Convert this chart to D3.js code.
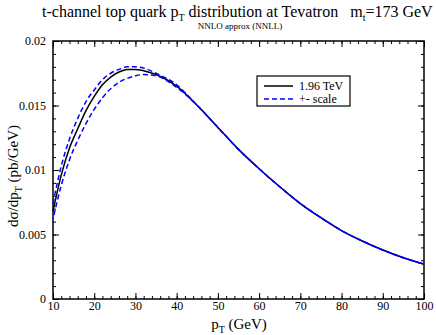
<!DOCTYPE html>
<html>
<head>
<meta charset="utf-8">
<script src="https://cdn.jsdelivr.net/npm/d3@7"></script>
<style>
  body { margin: 0; background: #fff; }
  text, .tick text { font-family: "Liberation Serif", "DejaVu Serif", serif !important; }
</style>
</head>
<body>
<svg id="chart" width="436" height="335"></svg>
<script>
// pT values (GeV)
var ptVals = [10, 12, 14, 16, 18, 20, 22, 24, 26, 28, 30, 32, 35, 40, 45, 50, 55, 60, 65, 70, 75, 80, 85, 90, 95, 100];

// central curve, 1.96 TeV
var central = [0.0068, 0.0096, 0.0117, 0.0132, 0.0146, 0.0157, 0.0166, 0.0172, 0.0176, 0.0178, 0.0178, 0.0177, 0.0174, 0.0165, 0.0150,
  0.0133, 0.0116, 0.0101, 0.0087, 0.0074, 0.0063, 0.0053, 0.0045, 0.0038, 0.0032, 0.0027];

// scale variation, up and down
var scaleUp = [0.0074, 0.0103, 0.0124, 0.0140, 0.0153, 0.0162, 0.0170, 0.0175, 0.0178, 0.0180, 0.0180, 0.0179, 0.0175, 0.0166, 0.0150,
  0.0133, 0.0116, 0.0101, 0.0087, 0.0074, 0.0063, 0.0053, 0.0045, 0.0038, 0.0032, 0.0027];
var scaleDown = [0.0062, 0.0088, 0.0108, 0.0123, 0.0136, 0.0147, 0.0156, 0.0163, 0.0168, 0.0171, 0.0173, 0.0174, 0.0173, 0.0164, 0.0150,
  0.0133, 0.0116, 0.0101, 0.0087, 0.0074, 0.0063, 0.0053, 0.0045, 0.0038, 0.0032, 0.0027];

var xTickVals = [10, 20, 30, 40, 50, 60, 70, 80, 90, 100];
var yTickVals = [0, 0.005, 0.01, 0.015, 0.02];
var yTickLabels = ["0", "0.005", "0.01", "0.015", "0.02"];

var serif = "Liberation Serif, DejaVu Serif, serif";

var svg = d3.select("#chart"),
    pLeft = 53, pRight = 424, pTop = 41, pBottom = 299;

var x = d3.scaleLinear().domain([10, 100]).range([pLeft, pRight]);
var y = d3.scaleLinear().domain([0, 0.02]).range([pBottom, pTop]);

// minor ticks
var xMinor = d3.range(10, 100.1, 2), yMinor = d3.range(0, 0.02001, 0.001);

// bottom axis (ticks inward)
svg.append("g").attr("transform", "translate(0," + pBottom + ")")
  .call(d3.axisBottom(x).tickValues(xMinor).tickSize(-3).tickFormat(""));
svg.append("g").attr("transform", "translate(0," + pBottom + ")")
  .call(d3.axisBottom(x).tickValues(xTickVals).tickSize(-6).tickPadding(2).tickFormat(d3.format("d")));
// top axis
svg.append("g").attr("transform", "translate(0," + pTop + ")")
  .call(d3.axisTop(x).tickValues(xMinor).tickSize(-3).tickFormat(""));
svg.append("g").attr("transform", "translate(0," + pTop + ")")
  .call(d3.axisTop(x).tickValues(xTickVals).tickSize(-6).tickFormat(""));
// left axis
svg.append("g").attr("transform", "translate(" + pLeft + ",0)")
  .call(d3.axisLeft(y).tickValues(yMinor).tickSize(-3).tickFormat(""));
svg.append("g").attr("transform", "translate(" + pLeft + ",0)")
  .call(d3.axisLeft(y).tickValues(yTickVals).tickSize(-6).tickPadding(7)
    .tickFormat(function(d, i) { return yTickLabels[i]; }));
// right axis
svg.append("g").attr("transform", "translate(" + pRight + ",0)")
  .call(d3.axisRight(y).tickValues(yMinor).tickSize(-3).tickFormat(""));
svg.append("g").attr("transform", "translate(" + pRight + ",0)")
  .call(d3.axisRight(y).tickValues(yTickVals).tickSize(-6).tickFormat(""));

svg.selectAll(".domain").remove();
svg.selectAll("g").attr("font-family", serif).attr("font-size", 12);
svg.selectAll(".tick line").attr("stroke", "#000").attr("stroke-width", 1);
svg.selectAll(".tick text").attr("fill", "#000");

// frame
svg.append("rect").attr("x", pLeft).attr("y", pTop)
  .attr("width", pRight - pLeft).attr("height", pBottom - pTop)
  .attr("fill", "none").attr("stroke", "#000").attr("stroke-width", 1.5);

// curves
var line = d3.line().curve(d3.curveMonotoneX);
function pts(arr) { return ptVals.map(function(p, i) { return [x(p), y(arr[i])]; }); }

svg.append("path").attr("d", line(pts(central)))
  .attr("fill", "none").attr("stroke", "#000").attr("stroke-width", 1.5);
[scaleUp, scaleDown].forEach(function(s, k) {
  svg.append("path").attr("d", line(pts(s)))
    .attr("fill", "none").attr("stroke", "#0000ff").attr("stroke-width", 1.5)
    .attr("stroke-dasharray", "5,3").attr("stroke-dashoffset", k * 4);
});

// legend
var lg = svg.append("g");
lg.append("rect").attr("x", 257).attr("y", 76).attr("width", 93).attr("height", 30)
  .attr("fill", "#fff").attr("stroke", "#000").attr("stroke-width", 1.2);
lg.append("line").attr("x1", 264).attr("x2", 293).attr("y1", 86).attr("y2", 86)
  .attr("stroke", "#000").attr("stroke-width", 1.5);
lg.append("line").attr("x1", 264).attr("x2", 293).attr("y1", 99).attr("y2", 99)
  .attr("stroke", "#0000ff").attr("stroke-width", 1.5).attr("stroke-dasharray", "5,3");
lg.append("text").attr("x", 299).attr("y", 90).attr("font-size", 12).text("1.96 TeV");
lg.append("text").attr("x", 299).attr("y", 103).attr("font-size", 12).text("+- scale");

// titles
var t = svg.append("text").attr("x", 42).attr("y", 17).attr("font-size", 16);
t.append("tspan").text("t-channel top quark p");
t.append("tspan").attr("font-size", 10).attr("dy", 4).text("T");
t.append("tspan").attr("dy", -4).text(" distribution at Tevatron\u00a0\u00a0\u00a0m");
t.append("tspan").attr("font-size", 10).attr("dy", 4).text("t");
t.append("tspan").attr("dy", -4).text("=173 GeV");

svg.append("text").attr("x", 240).attr("y", 29).attr("text-anchor", "middle")
  .attr("font-size", 9).text("NNLO approx (NNLL)");

var xl = svg.append("text").attr("x", 239).attr("y", 329).attr("text-anchor", "middle").attr("font-size", 15);
xl.append("tspan").text("p");
xl.append("tspan").attr("font-size", 10).attr("dy", 4).text("T");
xl.append("tspan").attr("dy", -4).text(" (GeV)");

var yl = svg.append("text").attr("transform", "translate(18,176) rotate(-90)")
  .attr("text-anchor", "middle").attr("font-size", 15);
yl.append("tspan").text("d\u03c3/dp");
yl.append("tspan").attr("font-size", 10).attr("dy", 4).text("T");
yl.append("tspan").attr("dy", -4).text(" (pb/GeV)");
</script>
</body>
</html>
